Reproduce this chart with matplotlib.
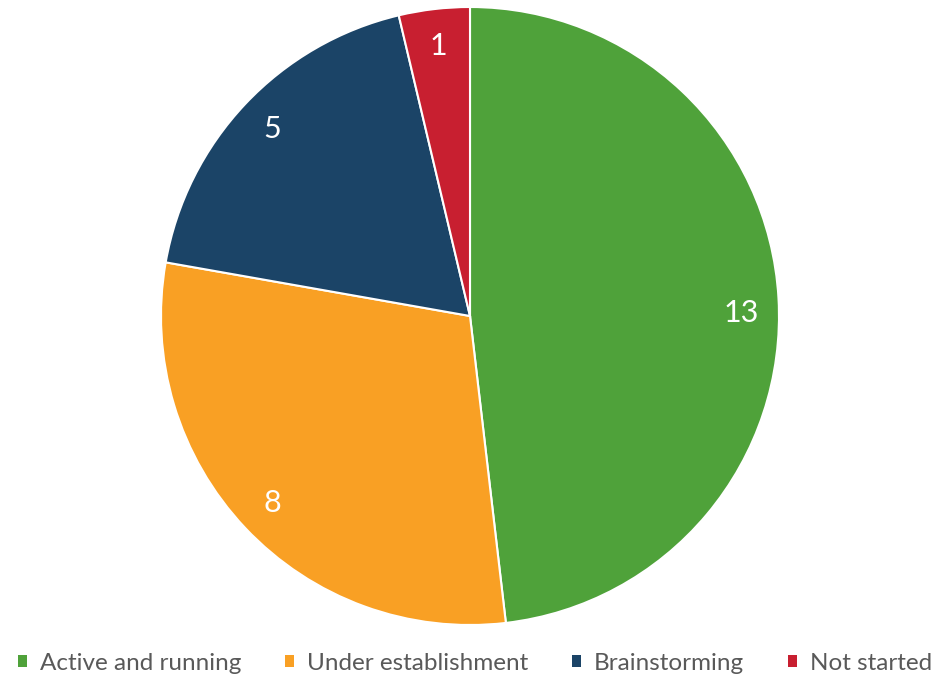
import matplotlib.pyplot as plt
from matplotlib.patches import Patch

# data
categories = ["Active and running", "Under establishment", "Brainstorming", "Not started"]
counts = [13, 8, 5, 1]
colors = ["#4fa23a", "#f9a024", "#1b4467", "#c81f30"]

plt.rcParams['font.family'] = ['Lato', 'DejaVu Sans']

fig = plt.figure(figsize=(9.38, 6.84), dpi=100)

# pie placed so that centre ~ (470, 316) px, radius ~ 309 px
cx, cy, r = 470, 316, 309
W, H = 938, 684
ax = fig.add_axes([(cx - r) / W, (H - cy - r) / H, 2 * r / W, 2 * r / H])

wedges, texts = ax.pie(counts, colors=colors, startangle=90, counterclock=False,
                       labels=[str(c) for c in counts], labeldistance=0.88,
                       wedgeprops=dict(edgecolor="white", linewidth=1.5))
for t in texts:
    t.set_color("white")
    t.set_fontsize(22)
    t.set_ha("center")
    t.set_va("center")
# the big label sits a bit lower in the original
x0, y0 = texts[0].get_position()
texts[0].set_position((x0, y0 - 0.04))

ax.set_xlim(-1.0, 1.0)
ax.set_ylim(-1.0, 1.0)
ax.set_aspect("equal")
ax.axis("off")

handles = [Patch(facecolor=c, edgecolor="none") for c in colors]
fig.legend(handles, categories, loc="center", bbox_to_anchor=(475 / W, 1 - 663 / H),
           ncol=4, frameon=False, fontsize=17.5, labelcolor="#595959",
           handlelength=0.37, handleheight=0.37, handletextpad=0.53, columnspacing=1.8,
           borderpad=0, borderaxespad=0)

fig.savefig("out.png", dpi=100)
